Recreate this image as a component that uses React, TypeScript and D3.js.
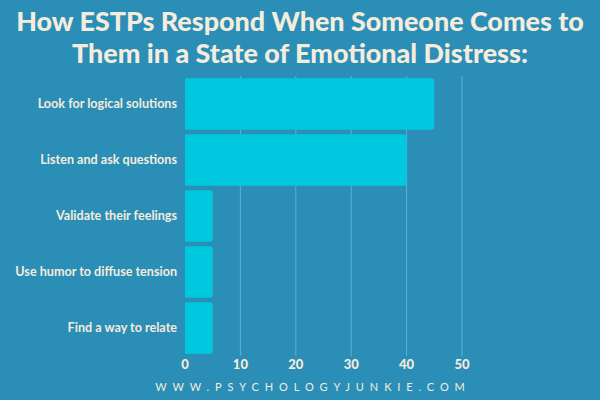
import React from "react";
import * as d3 from "d3";

const categories = [
  "Look for logical solutions",
  "Listen and ask questions",
  "Validate their feelings",
  "Use humor to diffuse tension",
  "Find a way to relate",
];
const values = [45, 40, 5, 5, 5];
const xTicks = [0, 10, 20, 30, 40, 50];
const titleLines = [
  "How ESTPs Respond When Someone Comes to",
  "Them in a State of Emotional Distress:",
];
const footer = "WWW.PSYCHOLOGYJUNKIE.COM";

const W = 600;
const H = 400;
const BG = "#2b8eb6";
const BAR = "#00c9df";
const TXT = "#f4ecdc";
const GRID = "#5eb2d3";

export default function App() {
  const x = d3.scaleLinear().domain([0, 50]).range([185, 462]);
  const y = d3.scaleBand<string>().domain(categories).range([76, 356]).paddingInner(0.08).paddingOuter(0.04);
  const r = 3;
  const barPath = (w: number, h: number, x0: number, y0: number) => {
    const rr = Math.min(r, w / 2);
    return `M${x0},${y0}H${x0 + w - rr}Q${x0 + w},${y0} ${x0 + w},${y0 + rr}V${y0 + h - rr}Q${x0 + w},${y0 + h} ${x0 + w - rr},${y0 + h}H${x0}Z`;
  };
  const ls = 5.9;
  return (
    <svg width={W} height={H} style={{ position: "absolute", left: 0, top: 0, display: "block" }}>
      <rect width={W} height={H} fill={BG} />
      {titleLines.map((t, i) => (
        <text key={i} x={300} y={31 + i * 32} textAnchor="middle" fill={TXT} fontFamily="Lato" fontWeight={900} fontSize={26.9}>
          {t}
        </text>
      ))}
      {xTicks.slice(1).map((t) => (
        <line key={t} x1={x(t)} x2={x(t)} y1={76} y2={356} stroke={GRID} strokeWidth={1} />
      ))}
      {categories.map((c, i) => (
        <path key={c} d={barPath(x(values[i]) - x(0), y.bandwidth(), x(0), y(c)!)} fill={BAR} />
      ))}
      {categories.map((c) => (
        <text key={c} x={177} y={y(c)! + y.bandwidth() / 2} dy="0.35em" textAnchor="end" fill={TXT} fontFamily="Lato" fontWeight={700} fontSize={12.6}>
          {c}
        </text>
      ))}
      {xTicks.map((t) => (
        <text key={t} x={x(t)} y={364} dy="0.35em" textAnchor="middle" fill={TXT} fontFamily="Lato" fontWeight={900} fontSize={13}>
          {t}
        </text>
      ))}
      <text x={310 + ls / 2} y={387} dy="0.35em" textAnchor="middle" fill={TXT} fontFamily="Lato" fontWeight={400} fontSize={11} letterSpacing={ls}>
        {footer}
      </text>
    </svg>
  );
}
